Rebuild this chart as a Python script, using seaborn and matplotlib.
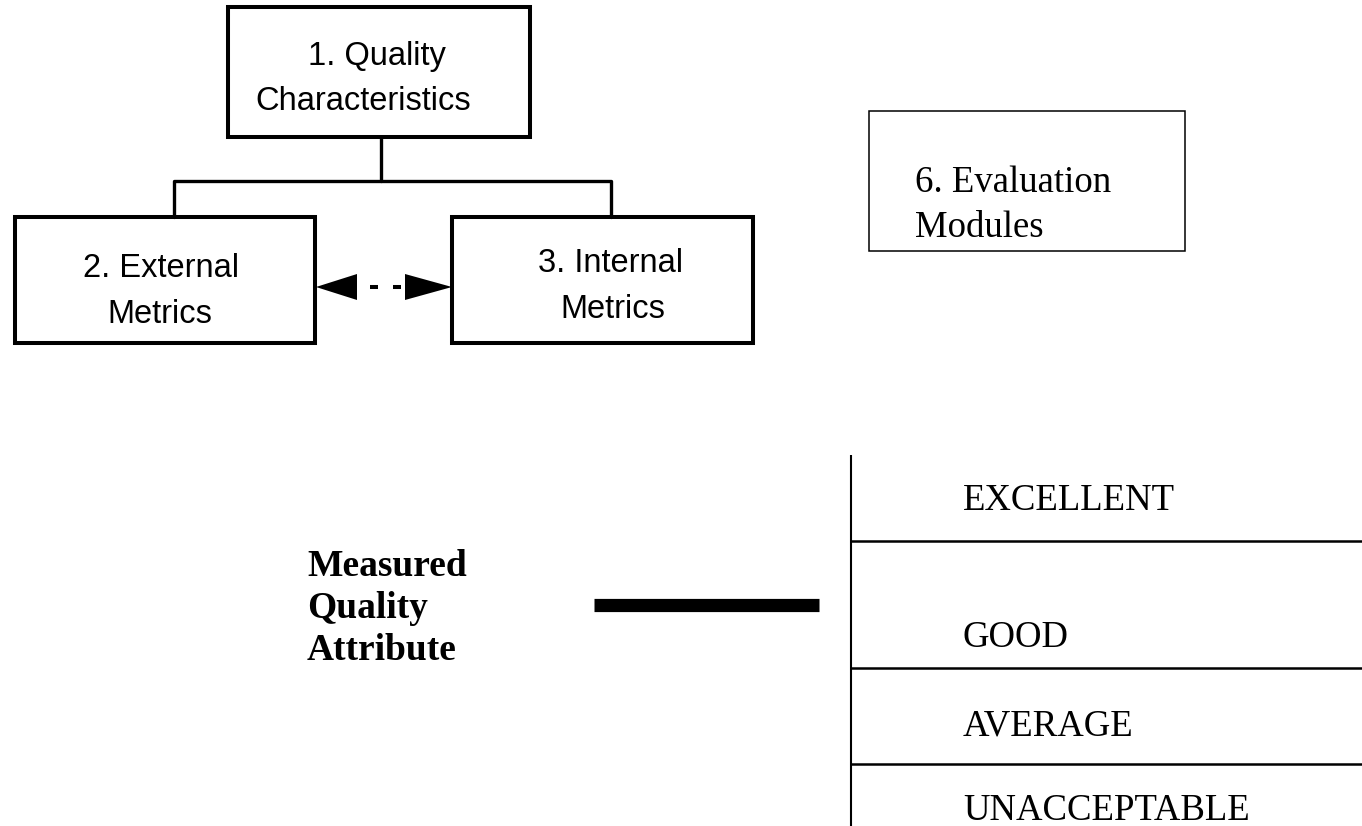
import matplotlib
matplotlib.use("Agg")
import matplotlib.pyplot as plt
from matplotlib.patches import Rectangle, Polygon
import pandas as pd
import seaborn as sns

# Canvas is laid out in pixel units of the reference (1362 x 826)
WIDTH, HEIGHT = 1362, 826

# Boxes of the upper diagram: left, top, right, bottom, border width (pt)
box_names = ["quality", "external", "internal", "evaluation"]
box_left = [228, 15, 452, 869]
box_top = [7, 217, 217, 111]
box_right = [530, 315, 753, 1185]
box_bottom = [137, 343, 343, 251]
box_lw = [2.9, 2.9, 2.9, 1.1]

# Text inside the boxes, one row per line
sans_lines = ["1. Quality", "Characteristics", "2. External", "Metrics", "3. Internal", "Metrics"]
sans_x = [377, 363, 161, 160, 611, 613]
sans_y = [65, 110, 277, 323, 272, 318]

serif_lines = ["6. Evaluation", "Modules"]
serif_x = [915, 915]
serif_y = [192, 237]

# Tree connectors between box 1 and boxes 2/3
conn_seg = [0, 0, 1, 1, 1, 1]
conn_x = [381, 381, 174, 174, 611, 611]
conn_y = [137, 181, 217, 181, 181, 217]

# Lower part: measured attribute and rating scale
attr_lines = ["Measured", "Quality", "Attribute"]
attr_y = [576, 618, 660]
attr_x = 307

bar_x = [594, 819]
bar_y = [605, 605]

ratings = ["EXCELLENT", "GOOD", "AVERAGE", "UNACCEPTABLE"]
rating_y = [510, 647, 735, 820]
rating_x = 963
dividers = [541, 668, 764]
scale_x = 851
scale_top = 455


def draw(filename: str) -> None:
    sns.set_theme(style="white")
    plt.rcParams["font.family"] = ["Liberation Sans", "DejaVu Sans"]

    fig = plt.figure(figsize=(WIDTH / 100, HEIGHT / 100), dpi=100)
    ax = fig.add_axes([0, 0, 1, 1])
    ax.set_xlim(0, WIDTH)
    ax.set_ylim(HEIGHT, 0)
    ax.axis("off")

    for l, t, r, b, lw in zip(box_left, box_top, box_right, box_bottom, box_lw):
        ax.add_patch(Rectangle((l, t), r - l, b - t, fill=False, ec="black", lw=lw, joinstyle="miter"))

    df_conn = pd.DataFrame({"seg": conn_seg, "x": conn_x, "y": conn_y})
    sns.lineplot(data=df_conn, x="x", y="y", units="seg", estimator=None, sort=False,
                 color="black", lw=2.4, legend=False, ax=ax)

    # Double headed dotted arrow between external and internal metrics
    arrow_y = 287
    ax.add_patch(Polygon([(316, arrow_y), (357, arrow_y - 13), (357, arrow_y + 13)], color="black", lw=0))
    ax.add_patch(Polygon([(452, arrow_y), (405, arrow_y - 13), (405, arrow_y + 13)], color="black", lw=0))
    for x0, x1 in [(370, 378), (393, 401)]:
        ax.plot([x0, x1], [arrow_y, arrow_y], color="black", lw=2.9, solid_capstyle="butt")

    for txt, x, y in zip(sans_lines, sans_x, sans_y):
        ax.text(x, y, txt, ha="center", va="baseline", fontsize=23.5, color="black",
                family=["Liberation Sans", "DejaVu Sans"])

    for txt, x, y in zip(serif_lines, serif_x, serif_y):
        ax.text(x, y, txt, ha="left", va="baseline", fontsize=26.5, color="black",
                family=["Liberation Serif", "DejaVu Serif"])

    for txt, y in zip(attr_lines, attr_y):
        ax.text(attr_x, y, txt, ha="left", va="baseline", fontsize=27, fontweight="bold",
                color="black", family=["Liberation Serif", "DejaVu Serif"])

    df_bar = pd.DataFrame({"x": bar_x, "y": bar_y})
    sns.lineplot(data=df_bar, x="x", y="y", color="black", lw=9.5, estimator=None,
                 sort=False, legend=False, ax=ax, solid_capstyle="butt")

    # Rating scale
    ax.plot([scale_x, scale_x], [scale_top, HEIGHT], color="black", lw=1.5, solid_capstyle="butt")
    for y in dividers:
        ax.plot([scale_x, WIDTH], [y, y], color="black", lw=1.8, solid_capstyle="butt")
    for txt, y in zip(ratings, rating_y):
        ax.text(rating_x, y, txt, ha="left", va="baseline", fontsize=26.5, color="black",
                family=["Liberation Serif", "DejaVu Serif"])

    ax.set_xlim(0, WIDTH)
    ax.set_ylim(HEIGHT, 0)
    fig.savefig(filename, dpi=100, facecolor="white")


if __name__ == "__main__":
    draw("out.png")
